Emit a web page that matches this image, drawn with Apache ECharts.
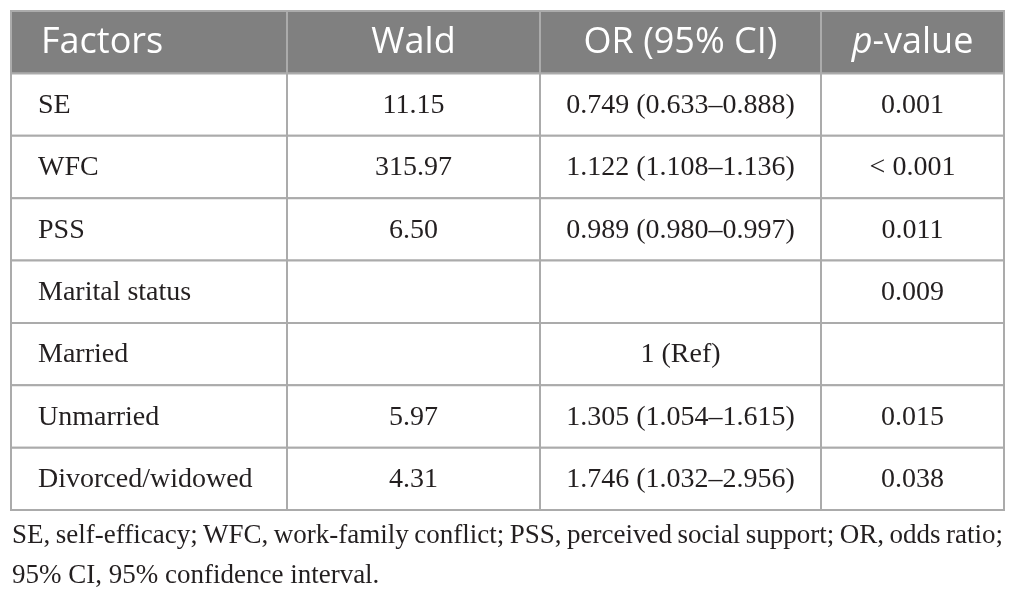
<!DOCTYPE html>
<html><head><meta charset="utf-8">
<script src="https://cdn.jsdelivr.net/npm/echarts@6/dist/echarts.min.js"></script>
<style>html,body{margin:0;padding:0;background:#fff}#c{width:1017px;height:602px}</style>
</head><body><div id="c"></div>
<script>
// ---- data ----
const headers = ['Factors', 'Wald', 'OR (95% CI)', 'p-value'];
const factors = ['SE', 'WFC', 'PSS', 'Marital status', 'Married', 'Unmarried', 'Divorced/widowed'];
const wald = ['11.15', '315.97', '6.50', '', '', '5.97', '4.31'];
const orCI = ['0.749 (0.633–0.888)', '1.122 (1.108–1.136)', '0.989 (0.980–0.997)', '', '1 (Ref)', '1.305 (1.054–1.615)', '1.746 (1.032–2.956)'];
const pValues = ['0.001', '< 0.001', '0.011', '0.009', '', '0.015', '0.038'];
const footnote = ['SE, self-efficacy; WFC, work-family conflict; PSS, perceived social support; OR, odds ratio;', '95% CI, 95% confidence interval.'];

// ---- layout ----
const colEdges = [0, 276, 529, 810, 993];
const HEAD_FONT = 'Open Sans';
const BODY_FONT = 'Liberation Serif';
const HEAD_SIZE = 36;
const cols = [factors, wald, orCI, pValues];
const cells = [];
headers.forEach((h, c) => cells.push([c, 0, h]));
for (let r = 0; r < factors.length; r++)
  for (let c = 0; c < 4; c++) cells.push([c, r + 1, cols[c][r]]);

function renderItem(params, api) {
  const c = api.value(0), r = api.value(1);
  const text = cells[params.dataIndex][2];
  const p0 = api.coord([colEdges[c], r]);
  const p1 = api.coord([colEdges[c + 1], r + 1]);
  const x = p0[0], y = p0[1], w = p1[0] - p0[0], h = p1[1] - p0[1];
  const head = r === 0;
  const children = [{
    type: 'rect', shape: { x, y, width: w, height: h },
    style: { fill: head ? '#808080' : '#ffffff', stroke: '#ababab', lineWidth: 2 }
  }];
  const isP = head && c === 3;
  const tStyle = {
    text: isP ? '{i|p}-value' : text,
    x: c === 0 ? x + (head ? 30 : 27) : x + w / 2,
    y: y + h / 2 + 1,
    align: c === 0 ? 'left' : 'center',
    verticalAlign: 'middle',
    fill: head ? '#ffffff' : '#231f20',
    fontFamily: head ? HEAD_FONT : BODY_FONT,
    fontSize: head ? HEAD_SIZE : 28
  };
  if (isP) tStyle.rich = { i: { fontStyle: 'italic', fontFamily: HEAD_FONT, fontSize: HEAD_SIZE, fill: '#ffffff' } };
  children.push({ type: 'text', style: tStyle, z2: 10 });
  return { type: 'group', children };
}

// justified footnote words
const FOOT_SIZE = 27;
const ctx = document.createElement('canvas').getContext('2d');
ctx.font = FOOT_SIZE + 'px "' + BODY_FONT + '"';
const graphics = [];
(function () {
  const left = 12, right = 1003;
  const words = footnote[0].split(' ');
  const widths = words.map(w => ctx.measureText(w).width);
  const total = widths.reduce((a, b) => a + b, 0);
  const gap = (right - left - total) / (words.length - 1);
  let xx = left;
  words.forEach((w, i) => {
    graphics.push({ type: 'text', left: xx, top: 522, style: { text: w, fontFamily: BODY_FONT, fontSize: FOOT_SIZE, fill: '#231f20' } });
    xx += widths[i] + gap;
  });
  graphics.push({ type: 'text', left: left, top: 562, style: { text: footnote[1], fontFamily: BODY_FONT, fontSize: FOOT_SIZE, fill: '#231f20' } });
})();

const chart = echarts.init(document.getElementById('c'), null, { renderer: 'canvas' });
chart.setOption({
  animation: false,
  grid: { left: 11, right: 13, top: 11, bottom: 92 },
  xAxis: { type: 'value', min: 0, max: 993, show: false },
  yAxis: { type: 'value', min: 0, max: 8, inverse: true, show: false },
  series: [{
    type: 'custom', renderItem,
    data: cells.map(d => [d[0], d[1]]),
    encode: { x: 0, y: 1 }
  }],
  graphic: graphics
});
</script></body></html>
